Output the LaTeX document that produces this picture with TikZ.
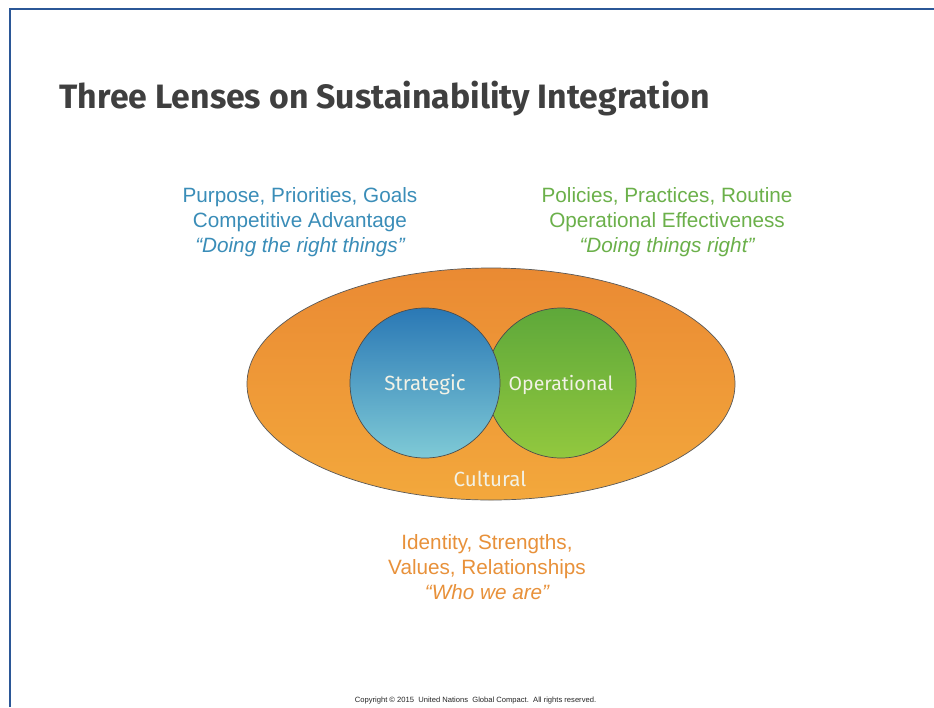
\documentclass[tikz,border=0pt]{standalone}
\usepackage{fontspec}
\setmainfont{Liberation Sans}
\newfontfamily\titlefont{Fira Sans}
\newfontfamily\lensfont{Fira Sans}
\usetikzlibrary{shapes.geometric}
\definecolor{frameblue}{HTML}{2B5797}
\definecolor{titlegray}{HTML}{3F3F3F}
\definecolor{txtblue}{HTML}{3A8DB8}
\definecolor{txtgreen}{HTML}{6BB04A}
\definecolor{txtorange}{HTML}{E8913A}
\definecolor{orangetop}{HTML}{EA8A33}
\definecolor{orangebot}{HTML}{F3A83C}
\definecolor{bluetop}{HTML}{2A78B5}
\definecolor{bluebot}{HTML}{7FCAD6}
\definecolor{greentop}{HTML}{5EA83A}
\definecolor{greenbot}{HTML}{92C83E}
\definecolor{lenstext}{HTML}{F2F2E6}
\tikzset{
  bodytext/.style={align=center, font=\fontsize{20.7}{25}\selectfont, inner sep=0pt},
  lens/.style={circle, draw=black!70, line width=0.7pt, minimum size=150pt, inner sep=0pt},
  lenslabel/.style={font=\lensfont\fontsize{20.5}{22}\selectfont, text=lenstext, inner sep=0pt},
}
\begin{document}
\begin{tikzpicture}[x=1pt,y=-1pt]
\useasboundingbox (0,0) rectangle (934,707);
\fill[white] (0,0) rectangle (934,707);
\draw[frameblue, line width=2pt] (10,707) -- (10,8.5) -- (934,8.5);
\node[anchor=base west, inner sep=0pt, text=titlegray, font=\titlefont\bfseries\fontsize{33.8}{36}\selectfont] (title) at (59.5,108) {Three Lenses on Sustainability Integration};
\node[ellipse, draw=black!65, line width=0.7pt, top color=orangetop, bottom color=orangebot, minimum width=488pt, minimum height=232pt] (cultural) at (491,384) {};
\node[lens, top color=greentop, bottom color=greenbot] (operational) at (561,383) {};
\node[lens, top color=bluetop, bottom color=bluebot] (strategic) at (425,383) {};
\node[lenslabel, font=\lensfont\fontsize{19.5}{22}\selectfont] (operlabel) at ([yshift=-2pt]operational.center) {Operational};
\node[lenslabel] (stratlabel) at ([yshift=-2pt]strategic.center) {Strategic};
\node[lenslabel] (culturallabel) at (490,479) {Cultural};
\node[bodytext, text=txtblue] (stratdesc) at (300,222.5) {Purpose, Priorities, Goals\\Competitive Advantage\\\itshape “Doing the right things”};
\node[bodytext, text=txtgreen] (operdesc) at (667,222.5) {Policies, Practices, Routine\\Operational Effectiveness\\\itshape “Doing things right”};
\node[bodytext, text=txtorange] (cultdesc) at (487,567.5) {Identity, Strengths,\\Values, Relationships\\\itshape “Who we are”};
\node[font=\fontsize{7.6}{9}\selectfont, inner sep=0pt, text=black!85] (copy) at (475.5,701) {Copyright \textcopyright\ 2015\ \ United Nations\ \ Global Compact.\ \ All rights reserved.};
\end{tikzpicture}
\end{document}
